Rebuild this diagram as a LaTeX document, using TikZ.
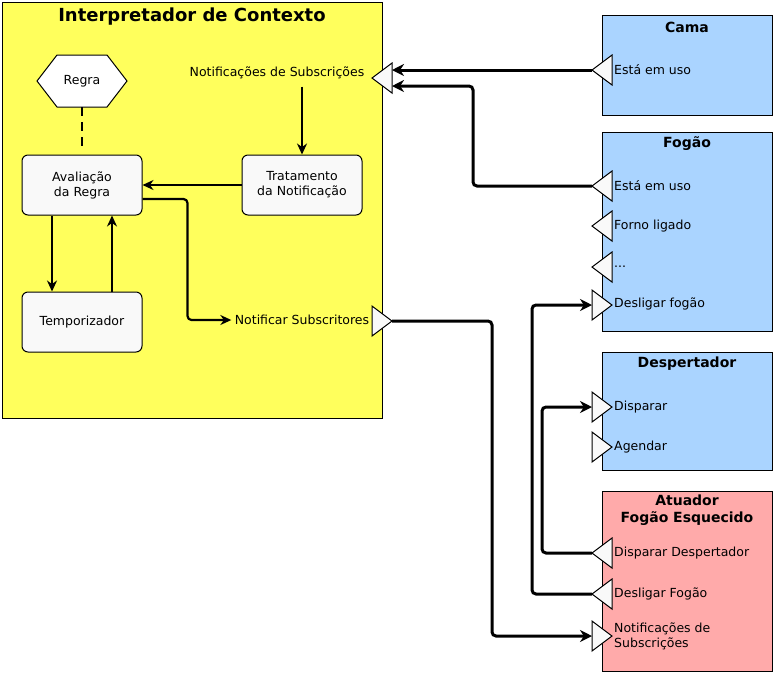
\documentclass[tikz,border=0pt]{standalone}
\usepackage{fontspec}
\setmainfont{DejaVu Sans}
\usetikzlibrary{arrows.meta}
\definecolor{ctxyellow}{HTML}{FFFF5C}
\definecolor{devblue}{HTML}{AAD4FF}
\definecolor{actpink}{HTML}{FFAAAA}
\definecolor{paper}{HTML}{F9F9F9}
\tikzset{
  box/.style={draw, rounded corners=6pt, fill=paper, minimum width=120pt, minimum height=60pt, align=center, line width=1pt},
  comp/.style={draw, line width=1pt, anchor=north west},
  title/.style={font=\bfseries\fontsize{14}{17}\selectfont, align=center},
  port/.style={draw, fill=paper, line width=1pt},
  plabel/.style={anchor=west, inner sep=2pt, align=left},
  wire/.style={-{Stealth[length=12pt,width=12pt]}, line width=3pt, rounded corners=4pt},
  flow/.style={-{Stealth[length=11pt,width=10pt]}, line width=2.2pt},
}
% ports on the edge of a component: #1 name, #2 x of the edge, #3 y
\newcommand{\portL}[3]{%
  \draw[port] (#2+10,#3-15) -- (#2-10,#3) -- (#2+10,#3+15) -- cycle;
  \coordinate (#1-w) at (#2-10,#3);
  \coordinate (#1-e) at (#2+10,#3);}
\newcommand{\portR}[3]{%
  \draw[port] (#2-10,#3-15) -- (#2+10,#3) -- (#2-10,#3+15) -- cycle;
  \coordinate (#1-w) at (#2-10,#3);
  \coordinate (#1-e) at (#2+10,#3);}
\begin{document}
\begin{tikzpicture}[x=1pt,y=-1pt,every node/.style={font=\fontsize{12.5}{15}\selectfont}]
\useasboundingbox (0,0) rectangle (774,673);
% components
\node[comp, fill=ctxyellow, minimum width=380pt, minimum height=416pt] (ctx) at (2,2) {};
\node[comp, fill=devblue, minimum width=170pt, minimum height=100pt] (cama) at (602,15) {};
\node[comp, fill=devblue, minimum width=170pt, minimum height=199pt] (fogao) at (602,132) {};
\node[comp, fill=devblue, minimum width=170pt, minimum height=118pt] (desp) at (602,352) {};
\node[comp, fill=actpink, minimum width=170pt, minimum height=180pt] (atu) at (602,491) {};
\node[title, font=\bfseries\fontsize{18}{20}\selectfont] (ctx-t) at (192,17) {Interpretador de Contexto};
\node[title] (cama-t) at (687,27) {Cama};
\node[title] (fogao-t) at (687,144) {Fogão};
\node[title] (desp-t) at (687,364) {Despertador};
\node[title] (atu-t) at (687,510.5) {Atuador\\Fogão Esquecido};
% inside the interpreter
\draw[port, fill=white] (37,81) -- (57,55) -- (107,55) -- (127,81) -- (107,107) -- (57,107) -- cycle;
\node (regra) at (82,81) {Regra};
\coordinate (regra-b) at (82,107);
\node[box] (aval) at (82,185) {Avaliação\\da Regra};
\node[box] (trat) at (302,185) {Tratamento\\da Notificação};
\node[box] (temp) at (82,322) {Temporizador};
\node (nsub) at (277,73) {Notificações de Subscrições};
\node (nnot) at (302,320) {Notificar Subscritores};
% ports
\portL{ctx-sub}{382}{78}
\portR{ctx-not}{382}{321}
\portL{cama-uso}{602}{70}
\portL{fog-uso}{602}{186}
\portL{fog-forno}{602}{226}
\portL{fog-dots}{602}{267}
\portR{fog-desl}{602}{305}
\portR{desp-disp}{602}{407}
\portR{desp-ag}{602}{447}
\portL{atu-disp}{602}{553}
\portL{atu-desl}{602}{594}
\portR{atu-sub}{602}{636}
\node[plabel] (cama-uso-t) at (612,70) {Está em uso};
\node[plabel] (fog-uso-t) at (612,186) {Está em uso};
\node[plabel] (fog-forno-t) at (612,226) {Forno ligado};
\node[plabel] (fog-dots-t) at (612,267) {...};
\node[plabel] (fog-desl-t) at (612,304) {Desligar fogão};
\node[plabel] (desp-disp-t) at (612,407) {Disparar};
\node[plabel] (desp-ag-t) at (612,447) {Agendar};
\node[plabel] (atu-disp-t) at (612,553) {Disparar Despertador};
\node[plabel] (atu-desl-t) at (612,594) {Desligar Fogão};
\node[plabel] (atu-sub-t) at (612,636) {Notificações de\\Subscrições};
% flows inside
\draw[line width=2pt, dash pattern=on 9pt off 6pt, shorten >=6pt] (regra-b) -- (aval.north);
\draw[flow, shorten <=4pt] (trat.north |- nsub.south) -- (trat.north);
\draw[flow] (trat.west) -- (aval.east);
\draw[flow, rounded corners=4pt] ([yshift=-14pt]aval.east) -- ++(45,0) |- (nnot.west);
\draw[flow] ([xshift=-30pt]aval.south) -- ([xshift=-30pt]temp.north);
\draw[flow] ([xshift=30pt]temp.north) -- ([xshift=30pt]aval.south);
% wires between components
\draw[wire] (cama-uso-w) -- ([yshift=8pt]ctx-sub-e);
\draw[wire] (fog-uso-w) -- ++(-119,0) |- ([yshift=-8pt]ctx-sub-e);
\draw[wire] (ctx-not-e) -- ++(100,0) |- (atu-sub-w);
\draw[wire] (atu-desl-w) -- ++(-60,0) |- (fog-desl-w);
\draw[wire] (atu-disp-w) -- ++(-50,0) |- (desp-disp-w);
\end{tikzpicture}
\end{document}
